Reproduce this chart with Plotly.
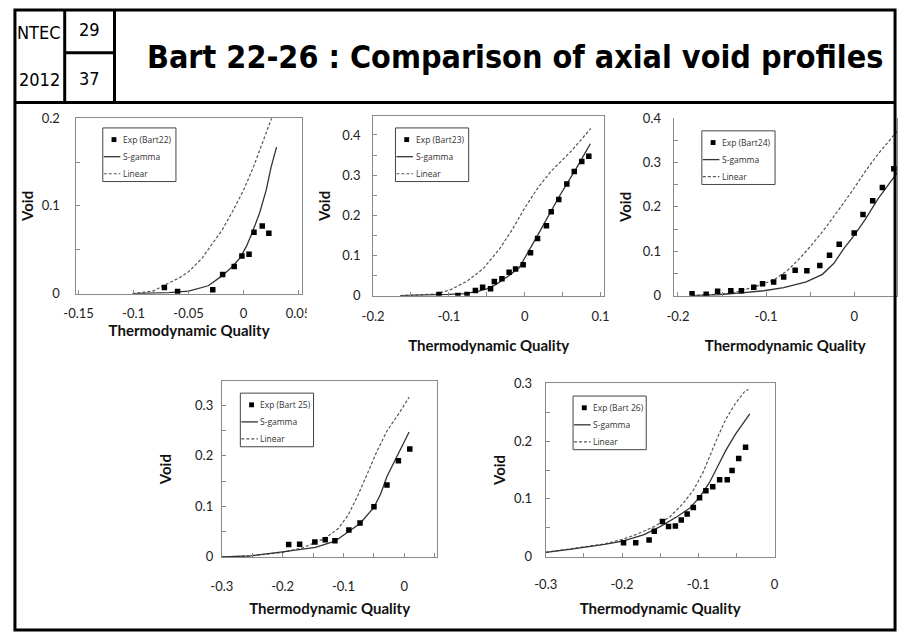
import plotly.graph_objects as go

W, H = 906, 640

# ---------------- data ----------------
exp22_x = [-0.072, -0.060, -0.028, -0.019, -0.0085, -0.0015, 0.005, 0.0095, 0.017, 0.023]
exp22_y = [0.007, 0.0025, 0.0045, 0.022, 0.031, 0.043, 0.045, 0.070, 0.077, 0.069]
sg22_x = [-0.101, -0.085, -0.068, -0.05, -0.032, -0.020, -0.010, -0.003, 0.003, 0.008, 0.0146, 0.0206, 0.025, 0.030]
sg22_y = [0.0, 0.0005, 0.0013, 0.003, 0.009, 0.020, 0.031, 0.041, 0.055, 0.070, 0.092, 0.118, 0.144, 0.167]
lin22_x = [-0.101, -0.082, -0.0727, -0.0588, -0.05, -0.038, -0.0295, -0.020, -0.010, 0.0, 0.0088, 0.0176, 0.026, 0.030]
lin22_y = [0.0, 0.003, 0.0093, 0.0178, 0.025, 0.040, 0.055, 0.0715, 0.0937, 0.118, 0.1437, 0.173, 0.201, 0.215]

exp23_x = [-0.113, -0.088, -0.076, -0.065, -0.0555, -0.045, -0.040, -0.030, -0.0205, -0.012, -0.002,
           0.0077, 0.017, 0.0287, 0.035, 0.045, 0.0556, 0.0654, 0.0753, 0.0846]
exp23_y = [0.003, 0.0005, 0.003, 0.013, 0.021, 0.017, 0.035, 0.042, 0.058, 0.066, 0.077,
           0.107, 0.142, 0.174, 0.209, 0.239, 0.278, 0.309, 0.334, 0.347]
sg23_x = [-0.164, -0.13, -0.10, -0.08, -0.063, -0.05, -0.0376, -0.0205, -0.007, 0.02, 0.045, 0.07, 0.0866]
sg23_y = [0.0, 0.001, 0.003, 0.005, 0.010, 0.017, 0.028, 0.050, 0.070, 0.160, 0.245, 0.323, 0.378]
lin23_x = [-0.164, -0.117, -0.0974, -0.076, -0.0547, -0.0333, -0.0162, 0.001, 0.018, 0.035, 0.061, 0.0872]
lin23_y = [0.0, 0.004, 0.015, 0.036, 0.067, 0.116, 0.165, 0.221, 0.27, 0.31, 0.359, 0.416]

exp24_x = [-0.184, -0.168, -0.155, -0.140, -0.128, -0.114, -0.104, -0.0914, -0.080, -0.067, -0.0537,
           -0.039, -0.028, -0.017, 0.0, 0.010, 0.021, 0.032, 0.045]
exp24_y = [0.004, 0.003, 0.010, 0.011, 0.011, 0.019, 0.027, 0.031, 0.042, 0.057, 0.056,
           0.068, 0.091, 0.116, 0.141, 0.183, 0.214, 0.244, 0.286]
sg24_x = [-0.184, -0.155, -0.128, -0.1026, -0.080, -0.0544, -0.036, -0.023, -0.0118, 0.0, 0.0126, 0.027, 0.0456, 0.05]
sg24_y = [0.0, 0.002, 0.006, 0.011, 0.018, 0.031, 0.048, 0.073, 0.106, 0.136, 0.172, 0.218, 0.268, 0.28]
lin24_x = [-0.184, -0.140, -0.114, -0.103, -0.0914, -0.0766, -0.0618, -0.047, -0.0322, -0.0174, -0.0026,
           0.0122, 0.027, 0.0456, 0.05]
lin24_y = [0.0, 0.005, 0.019, 0.026, 0.035, 0.055, 0.084, 0.117, 0.154, 0.194, 0.235, 0.279, 0.319, 0.363, 0.372]

exp25_x = [-0.190, -0.172, -0.147, -0.130, -0.114, -0.091, -0.0727, -0.0498, -0.0284, -0.0096, 0.0091]
exp25_y = [0.0244, 0.025, 0.0296, 0.034, 0.032, 0.053, 0.067, 0.099, 0.142, 0.190, 0.2135]
sg25_x = [-0.30, -0.253, -0.2, -0.146, -0.114, -0.0926, -0.0727, -0.0498, -0.039, -0.0284, -0.0124, 0.008]
sg25_y = [0.0, 0.002, 0.010, 0.019, 0.031, 0.050, 0.066, 0.098, 0.124, 0.159, 0.1975, 0.247]
lin25_x = [-0.30, -0.253, -0.2, -0.167, -0.13, -0.1086, -0.0926, -0.0766, -0.0605, -0.0445, -0.0284, -0.0069, 0.008]
lin25_y = [0.0, 0.002, 0.009, 0.018, 0.037, 0.056, 0.082, 0.1206, 0.165, 0.210, 0.249, 0.287, 0.316]

exp26_x = [-0.198, -0.182, -0.1645, -0.1577, -0.147, -0.139, -0.130, -0.1223, -0.1146, -0.1065, -0.0983,
           -0.090, -0.081, -0.072, -0.062, -0.0557, -0.047, -0.038]
exp26_y = [0.024, 0.024, 0.029, 0.044, 0.061, 0.052, 0.053, 0.0636, 0.0737, 0.085, 0.102,
           0.114, 0.121, 0.133, 0.133, 0.149, 0.170, 0.1895]
sg26_x = [-0.30, -0.266, -0.223, -0.199, -0.171, -0.15, -0.128, -0.111, -0.0983, -0.0854, -0.0746, -0.0639, -0.051, -0.0325]
sg26_y = [0.0075, 0.013, 0.0214, 0.027, 0.038, 0.052, 0.069, 0.084, 0.103, 0.128, 0.156, 0.184, 0.2125, 0.247]
lin26_x = [-0.30, -0.266, -0.223, -0.199, -0.18, -0.158, -0.137, -0.12, -0.107, -0.094, -0.0854, -0.0746,
           -0.0639, -0.051, -0.038, -0.034]
lin26_y = [0.0075, 0.0143, 0.022, 0.030, 0.039, 0.052, 0.069, 0.092, 0.114, 0.145, 0.173, 0.207,
           0.238, 0.266, 0.288, 0.289]

exp_names = ["Exp (Bart22)", "Exp (Bart23)", "Exp (Bart24)", "Exp (Bart 25)", "Exp (Bart 26)"]
model_names = ["S-gamma", "Linear"]

x_ticks = [
    ([-0.15, -0.1, -0.05, 0, 0.05], ["-0.15", "-0.1", "-0.05", "0", "0.05"]),
    ([-0.2, -0.1, 0, 0.1], ["-0.2", "-0.1", "0", "0.1"]),
    ([-0.2, -0.1, 0], ["-0.2", "-0.1", "0"]),
    ([-0.3, -0.2, -0.1, 0], ["-0.3", "-0.2", "-0.1", "0"]),
    ([-0.3, -0.2, -0.1, 0], ["-0.3", "-0.2", "-0.1", "0"]),
]
y_ticks = [
    ([0, 0.1, 0.2], ["0", "0.1", "0.2"]),
    ([0, 0.1, 0.2, 0.3, 0.4], ["0", "0.1", "0.2", "0.3", "0.4"]),
    ([0, 0.1, 0.2, 0.3, 0.4], ["0", "0.1", "0.2", "0.3", "0.4"]),
    ([0, 0.1, 0.2, 0.3], ["0", "0.1", "0.2", "0.3"]),
    ([0, 0.1, 0.2, 0.3], ["0", "0.1", "0.2", "0.3"]),
]

series = [
    (exp22_x, exp22_y, sg22_x, sg22_y, lin22_x, lin22_y),
    (exp23_x, exp23_y, sg23_x, sg23_y, lin23_x, lin23_y),
    (exp24_x, exp24_y, sg24_x, sg24_y, lin24_x, lin24_y),
    (exp25_x, exp25_y, sg25_x, sg25_y, lin25_x, lin25_y),
    (exp26_x, exp26_y, sg26_x, sg26_y, lin26_x, lin26_y),
]

# ---------------- layout geometry (pixels) ----------------
panels = [
    dict(box=(65, 296, 113, 293), xr=[-0.152, 0.053], yr=[0, 0.2],
         xstand=8, ystand=13, xts=3, yts=4, leg=(92, 123)),
    dict(box=(369, 606, 111, 295), xr=[-0.2, 0.105], yr=[0, 0.4466],
         xstand=9, ystand=9, xts=17, yts=8, leg=(392, 123)),
    dict(box=(677, 906, 113, 295), xr=[-0.205, 0.0486], yr=[0, 0.4],
         xstand=9, ystand=9, xts=17, yts=7, leg=(706, 126)),
    dict(box=(214, 435, 383, 563), xr=[-0.3, 0.0546], yr=[0, 0.347],
         xstand=17, ystand=5, xts=10, yts=19, leg=(233, 395)),
    dict(box=(546, 780.5, 385, 562.7), xr=[-0.3, 0.0], yr=[0, 0.3],
         xstand=16, ystand=10, xts=12, yts=4, leg=(574, 398)),
]

def px(x):
    return x / W

def py(y):
    return 1 - y / H

fig = go.Figure()
tick_font = dict(family="Lato, Open Sans, sans-serif", size=13, color="#222")
title_font = dict(family="Lato, Open Sans, sans-serif", size=15, color="#111")
axis_col = "#8a8a8a"

layout = dict(width=W, height=H, margin=dict(l=0, r=0, t=0, b=0),
              paper_bgcolor="white", plot_bgcolor="white", showlegend=False)

for i, (p, s) in enumerate(zip(panels, series)):
    n = "" if i == 0 else str(i + 1)
    xa, ya = "x" + n, "y" + n
    ex, ey, sx, sy, lx, ly = s
    fig.add_trace(go.Scatter(x=lx, y=ly, mode="lines", name=model_names[1], xaxis=xa, yaxis=ya,
                             line=dict(color="#555", width=1.2, dash="3px,2px")))
    fig.add_trace(go.Scatter(x=sx, y=sy, mode="lines", name=model_names[0], xaxis=xa, yaxis=ya,
                             line=dict(color="#333", width=1.3)))
    fig.add_trace(go.Scatter(x=ex, y=ey, mode="markers", name=exp_names[i], xaxis=xa, yaxis=ya,
                             marker=dict(symbol="square", size=5.5, color="black")))
    l, r, t, b = p["box"]
    xv, xt = x_ticks[i]
    yv, yt = y_ticks[i]
    layout["xaxis" + n] = dict(
        domain=[px(l), px(r)], range=p["xr"], anchor=ya, showgrid=False, zeroline=False,
        showline=True, linecolor=axis_col, linewidth=1, mirror=(i != 2),
        tickmode="array", tickvals=xv, ticktext=xt, ticks="inside", ticklen=4, tickcolor=axis_col,
        ticklabelstandoff=p["xstand"], tickfont=tick_font,
        minor=dict(tickmode="linear", tick0=0, dtick=0.05, ticks="inside", ticklen=4, tickcolor=axis_col),
        title=dict(text="<b>Thermodynamic Quality</b>", font=title_font, standoff=p["xts"]),
    )
    layout["yaxis" + n] = dict(
        domain=[py(b), py(t)], range=p["yr"], anchor=xa, showgrid=False, zeroline=False,
        showline=True, linecolor=axis_col, linewidth=1, mirror=True,
        tickmode="array", tickvals=yv, ticktext=yt, ticks="inside", ticklen=4, tickcolor=axis_col,
        ticklabelstandoff=p["ystand"], tickfont=tick_font,
        minor=dict(tickmode="linear", tick0=0, dtick=0.05, ticks="inside", ticklen=4, tickcolor=axis_col),
        title=dict(text="<b>Void</b>", font=title_font, standoff=p["yts"]),
    )

shapes = []
annotations = []

# ---------- legends (boxes inside each panel) ----------
leg_font = dict(family="Open Sans, sans-serif", size=8.5, color="#333")
for i, p in enumerate(panels):
    x0, y0 = p["leg"]
    shapes.append(dict(type="rect", xref="paper", yref="paper", x0=px(x0), x1=px(x0 + 75),
                       y0=py(y0), y1=py(y0 + 55), line=dict(color="#444", width=1), fillcolor="white",
                       layer="above"))
    shapes.append(dict(type="rect", xref="paper", yref="paper", x0=px(x0 + 9), x1=px(x0 + 14),
                       y0=py(y0 + 9.5), y1=py(y0 + 14.5), line=dict(width=0), fillcolor="black", layer="above"))
    shapes.append(dict(type="line", xref="paper", yref="paper", x0=px(x0 + 1), x1=px(x0 + 18),
                       y0=py(y0 + 29.5), y1=py(y0 + 29.5), line=dict(color="#333", width=1.3), layer="above"))
    shapes.append(dict(type="line", xref="paper", yref="paper", x0=px(x0 + 1), x1=px(x0 + 18),
                       y0=py(y0 + 47), y1=py(y0 + 47), line=dict(color="#555", width=1.2, dash="3px,2px"),
                       layer="above"))
    for txt, yy in [(exp_names[i], y0 + 12), (model_names[0], y0 + 29.5), (model_names[1], y0 + 47)]:
        annotations.append(dict(xref="paper", yref="paper", x=px(x0 + 18.5), y=py(yy), text=txt,
                                showarrow=False, xanchor="left", yanchor="middle", font=leg_font))

# cut-off of the '0.05' label of the first chart
shapes.append(dict(type="rect", xref="paper", yref="paper", x0=px(301), x1=px(318), y0=py(330), y1=py(300),
                   line=dict(width=0), fillcolor="white", layer="above"))

# ---------- slide frame / header ----------
frame = dict(color="black", width=3)
shapes += [
    dict(type="rect", xref="paper", yref="paper", x0=px(2), x1=px(904), y0=py(638), y1=py(2), line=frame, layer="above"),
    dict(type="line", xref="paper", yref="paper", x0=px(2), x1=px(904), y0=py(97), y1=py(97), line=frame, layer="above"),
    dict(type="line", xref="paper", yref="paper", x0=px(53), x1=px(53), y0=py(2), y1=py(97), line=frame, layer="above"),
    dict(type="line", xref="paper", yref="paper", x0=px(104), x1=px(104), y0=py(2), y1=py(97), line=frame, layer="above"),
    dict(type="line", xref="paper", yref="paper", x0=px(53), x1=px(104), y0=py(46), y1=py(46), line=frame, layer="above"),
]
hdr_font = dict(family="DejaVu Sans Condensed, DejaVu Sans, sans-serif", size=18, color="black")
for txt, x, y in [("NTEC", 27, 25), ("2012", 27, 73), ("29", 78, 22), ("37", 78, 72)]:
    annotations.append(dict(xref="paper", yref="paper", x=px(x), y=py(y), text=txt, showarrow=False,
                            xanchor="center", yanchor="middle", font=hdr_font))
annotations.append(dict(xref="paper", yref="paper", x=px(515), y=py(50),
                        text="<b>Bart 22-26 : Comparison of axial void profiles</b>", showarrow=False,
                        xanchor="center", yanchor="middle",
                        font=dict(family="DejaVu Sans Condensed, DejaVu Sans, sans-serif", size=32, color="black")))

layout["shapes"] = shapes
layout["annotations"] = annotations
fig.update_layout(**layout)

pin_page = (
    "document.documentElement.style.margin='0';document.documentElement.style.overflow='hidden';"
    "document.body.style.margin='0';document.body.style.overflow='hidden';"
    "var g=document.getElementsByClassName('plotly-graph-div')[0];"
    "g.style.position='fixed';g.style.left='0px';g.style.top='0px';"
)
fig.write_html("out.html", config={"displayModeBar": False}, post_script=pin_page)
